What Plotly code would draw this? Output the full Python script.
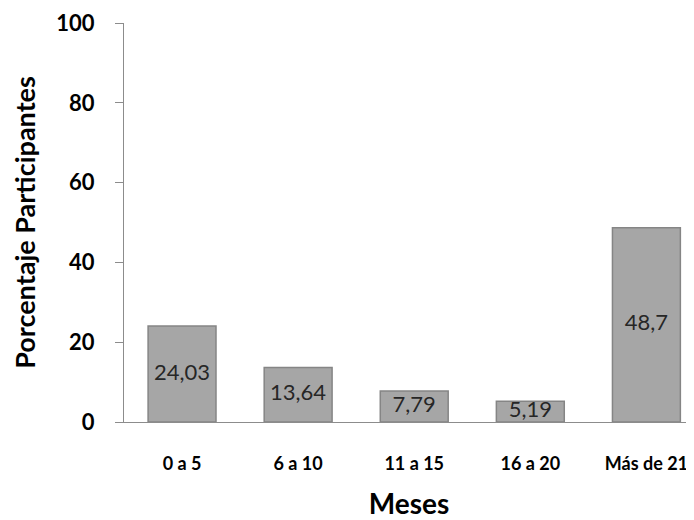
import plotly.graph_objects as go

categories = ["0 a 5", "6 a 10", "11 a 15", "16 a 20", "Más de 21"]
values = [24.03, 13.64, 7.79, 5.19, 48.7]
labels = ["24,03", "13,64", "7,79", "5,19", "48,7"]
y_ticks = [0, 20, 40, 60, 80, 100]

font_family = "Lato, Carlito, Calibri, 'Liberation Sans', Arial, sans-serif"

fig = go.Figure()
fig.add_trace(go.Bar(
    x=categories, y=values, width=0.585,
    marker=dict(color="#a6a6a6", line=dict(color="#858585", width=1.5)),
    hoverinfo="skip", showlegend=False,
))
fig.add_trace(go.Scatter(
    x=categories, y=[v / 2 for v in values], mode="text", text=labels,
    textfont=dict(family=font_family, size=22, color="#262626"),
    hoverinfo="skip", showlegend=False,
))

fig.update_layout(
    width=686, height=512,
    margin=dict(l=116, r=0, t=15, b=98),
    paper_bgcolor="white", plot_bgcolor="white",
    font=dict(family=font_family, color="#000000"),
)
fig.update_xaxes(
    range=[-0.5, 4.41], showline=True, linecolor="#8c8c8c", linewidth=1,
    ticks="", showgrid=False, tickfont=dict(size=18, family=font_family, weight="bold"),
    ticklabelstandoff=25,
    title=dict(text="<b>Meses</b>", font=dict(size=28), standoff=22),
)
fig.update_yaxes(
    range=[0, 100], tickvals=y_ticks, showline=True, linecolor="#8c8c8c", linewidth=1,
    ticks="outside", ticklen=8, tickcolor="#8c8c8c", showgrid=False, zeroline=False,
    tickfont=dict(size=22, family=font_family, weight="bold"), ticklabelstandoff=16,
    title=dict(text="<b>Porcentaje Participantes</b>", font=dict(size=27), standoff=20),
)
fig.write_html("out.html")
